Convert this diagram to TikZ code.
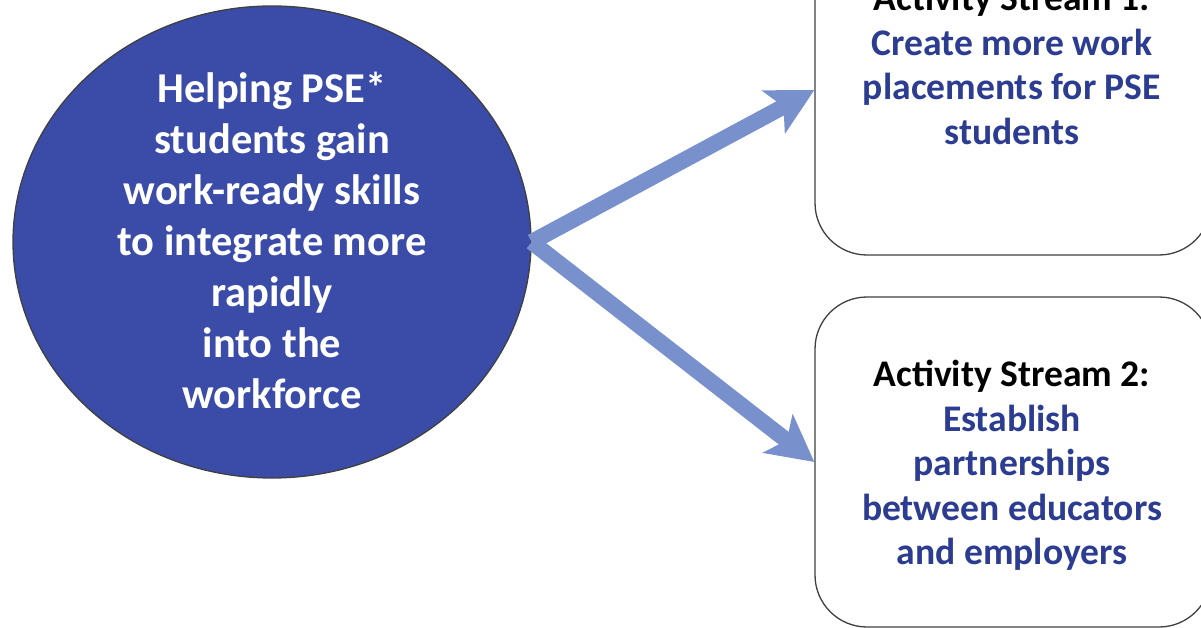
\documentclass[tikz,border=0pt]{standalone}
\usepackage{fontspec}
\setmainfont{Carlito}
\usetikzlibrary{shapes.geometric,arrows.meta}
\definecolor{ellfill}{RGB}{58,75,168}
\definecolor{boxtext}{RGB}{44,60,145}
\definecolor{arrowc}{RGB}{120,145,205}
\definecolor{edgec}{RGB}{64,64,64}
\tikzset{
  goal/.style={ellipse, draw=edgec, line width=1.3pt, fill=ellfill, minimum width=518pt, minimum height=472pt, inner sep=0pt},
  streambox/.style={rectangle, rounded corners=52pt, draw=edgec, line width=1.3pt, fill=white, minimum width=396pt, minimum height=330pt, inner sep=0pt},
  goaltext/.style={align=center, text=white, font=\fontsize{42.5}{51}\selectfont\bfseries},
  streamtext/.style={align=center, text=boxtext, font=\fontsize{37.6}{44.5}\selectfont\bfseries},
  flow/.style={draw=arrowc, line width=16pt, -{Stealth[length=46pt, width=48pt, inset=11pt]}}
}
\begin{document}
\begin{tikzpicture}[x=1pt,y=-1pt]
\useasboundingbox (0,0) rectangle (1201,628);
\node[goal] (ell) at (272,242) {};
\node[goaltext] (gt) at (272,240) {Helping PSE*\\students gain\\work-ready skills\\to integrate more\\rapidly\\into the\\workforce};
\node[streambox] (box1) at (1013,90) {};
\node[streambox] (box2) at (1013,462) {};
\node[streamtext] (t1) at (1012,64.5) {\textcolor{black}{Activity Stream 1:}\\Create more work\\placements for PSE\\students};
\node[streamtext] (t2) at (1012,465.5) {\textcolor{black}{Activity Stream 2:}\\Establish\\partnerships\\between educators\\and employers};
\draw[flow] (ell.east) -- (box1.west);
\draw[flow] (ell.east) -- (box2.west);
\end{tikzpicture}
\end{document}
